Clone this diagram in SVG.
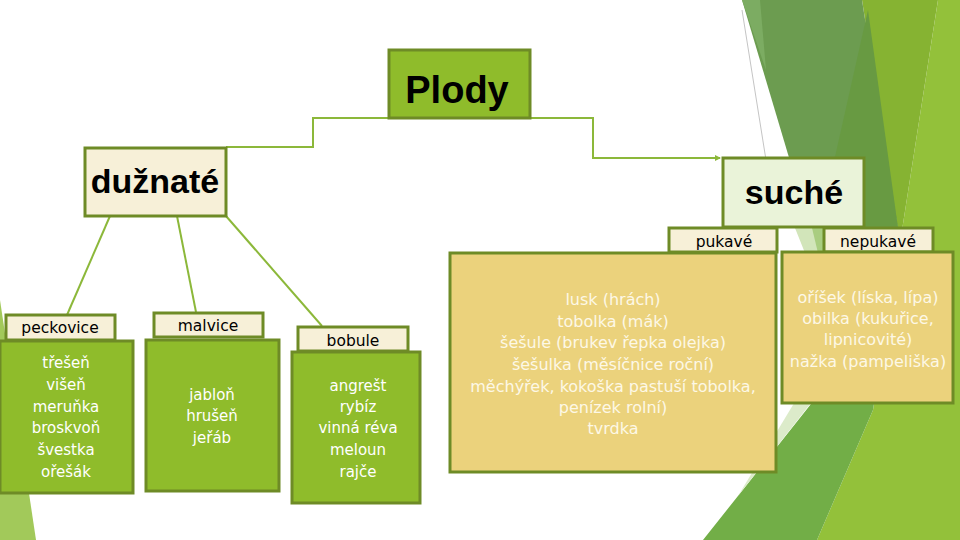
<svg xmlns="http://www.w3.org/2000/svg" width="960" height="540" viewBox="0 0 960 540">
<defs>
<style>
.box{stroke:#6e8b26;stroke-width:3}
.green{fill:#8fbc2b}
.cream{fill:#f7f0d8}
.yellow{fill:#ebd27c}
.title{font-family:"Liberation Sans",Arial,sans-serif;font-weight:bold;fill:#000;text-anchor:middle}
.lbl{font-family:"DejaVu Sans",sans-serif;font-size:15.5px;fill:#000;text-anchor:middle}
.gt{font-family:"DejaVu Sans",sans-serif;font-size:15px;fill:#fff;text-anchor:middle}
.yt{font-family:"DejaVu Sans",sans-serif;font-size:16px;fill:#fdf8e6;text-anchor:middle}
.conn{fill:none;stroke:#8cb83a;stroke-width:2}
</style>
<marker id="arr" markerWidth="6" markerHeight="6" refX="5" refY="3" orient="auto" markerUnits="userSpaceOnUse">
<path d="M0,0 L6,3 L0,6 z" fill="#8cb83a"/>
</marker>
</defs>
<rect width="960" height="540" fill="#fff"/>
<g id="background">
<polygon points="0,300 36,540 0,540" fill="#a2c95a"/>
<polygon points="938,0 960,0 960,540 817,540 873,410 900,243" fill="#93c13a"/>
<polygon points="703,540 817,540 873,410 898,250 850,300 830,380" fill="#72ae47"/>
<polygon points="738,496 825,385 805,385" fill="#dcebca"/>
<polygon points="862,0 938,0 900,243" fill="#86b332"/>
<polygon points="742,0 862,0 898,228 810,228" fill="#6c9c50"/>
<polygon points="868,10 898,228 819,228" fill="#689a42"/>
<polygon points="742,0 760,0 766,70" fill="#7cac62"/>
<polygon points="795,228 824,228 824,253 805,253" fill="#d2e5ba"/>
<polygon points="812,228 824,228 824,253 818,253" fill="#a9cd80"/>
<line x1="742" y1="10" x2="766" y2="160" stroke="#b5b5b5" stroke-width="0.8"/>
</g>
<g id="connectors">
<path class="conn" d="M458,118 H313 V147 H226"/>
<path class="conn" d="M458,118 H593 V158 H720" marker-end="url(#arr)"/>
<line class="conn" x1="110" y1="216" x2="67" y2="315"/>
<line class="conn" x1="177" y1="216" x2="196" y2="312"/>
<line class="conn" x1="226" y1="216" x2="322" y2="326"/>
</g>
<g id="plody">
<rect class="box green" x="389" y="50" width="141" height="68"/>
<text class="title" x="457" y="103" font-size="38">Plody</text>
</g>
<g id="duznate">
<rect class="box cream" x="85" y="148" width="141" height="68"/>
<text class="title" x="155" y="193" font-size="34">dužnaté</text>
</g>
<g id="suche">
<rect class="box" fill="#eaf3d9" x="723" y="158" width="141" height="69"/>
<text class="title" x="794" y="204" font-size="34">suché</text>
</g>
<g id="peckovice">
<rect class="box cream" x="6" y="315" width="109" height="25"/>
<text class="lbl" x="60" y="333">peckovice</text>
<rect class="box green" x="0" y="341" width="133" height="152"/>
<text class="gt" x="66" y="368">třešeň</text>
<text class="gt" x="66" y="390">višeň</text>
<text class="gt" x="66" y="412">meruňka</text>
<text class="gt" x="66" y="433">broskvoň</text>
<text class="gt" x="66" y="455">švestka</text>
<text class="gt" x="66" y="477">ořešák</text>
</g>
<g id="malvice">
<rect class="box cream" x="154" y="313" width="109" height="24"/>
<text class="lbl" x="208" y="331">malvice</text>
<rect class="box green" x="146" y="340" width="133" height="151"/>
<text class="gt" x="212" y="400">jabloň</text>
<text class="gt" x="212" y="421">hrušeň</text>
<text class="gt" x="212" y="443">jeřáb</text>
</g>
<g id="bobule">
<rect class="box cream" x="298" y="327" width="110" height="24"/>
<text class="lbl" x="353" y="346">bobule</text>
<rect class="box green" x="292" y="352" width="128" height="151"/>
<text class="gt" x="358" y="391">angrešt</text>
<text class="gt" x="358" y="412">rybíz</text>
<text class="gt" x="358" y="433">vinná réva</text>
<text class="gt" x="358" y="455">meloun</text>
<text class="gt" x="358" y="477">rajče</text>
</g>
<g id="pukave">
<rect class="box cream" x="669" y="228" width="108" height="24"/>
<text class="lbl" x="724" y="247">pukavé</text>
<rect class="box yellow" x="450" y="253" width="326" height="219"/>
<text class="yt" x="613" y="305">lusk (hrách)</text>
<text class="yt" x="613" y="327">tobolka (mák)</text>
<text class="yt" x="613" y="348">šešule (brukev řepka olejka)</text>
<text class="yt" x="613" y="370">šešulka (měsíčnice roční)</text>
<text class="yt" x="613" y="392">měchýřek, kokoška pastuší tobolka,</text>
<text class="yt" x="613" y="413">penízek rolní)</text>
<text class="yt" x="613" y="434">tvrdka</text>
</g>
<g id="nepukave">
<rect class="box cream" x="824" y="228" width="109" height="24"/>
<text class="lbl" x="878" y="247">nepukavé</text>
<rect class="box yellow" x="782" y="252" width="171" height="151"/>
<text class="yt" x="868" y="303">oříšek (líska, lípa)</text>
<text class="yt" x="868" y="324">obilka (kukuřice,</text>
<text class="yt" x="868" y="345">lipnicovité)</text>
<text class="yt" x="868" y="367">nažka (pampeliška)</text>
</g>
</svg>
